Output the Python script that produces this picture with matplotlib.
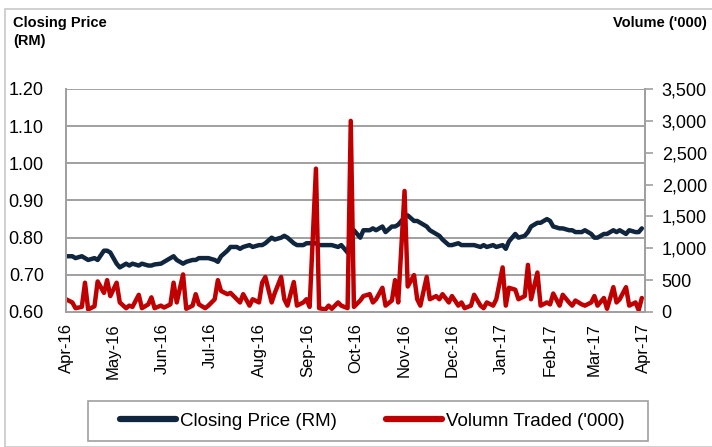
import matplotlib
matplotlib.use("Agg")
import matplotlib.pyplot as plt
import matplotlib.dates as mdates
from matplotlib.ticker import FuncFormatter, MultipleLocator
from matplotlib.patches import Rectangle
import pandas as pd

plt.rcParams["font.family"] = ["Liberation Sans", "DejaVu Sans"]

# every second trading day, Apr 2016 - Mar 2017
dates = pd.bdate_range("2016-04-01", "2017-03-31")[::2]

price = [
    0.75, 0.75, 0.745, 0.75, 0.745, 0.74, 0.745, 0.74, 0.765, 0.765,
    0.76, 0.73, 0.72, 0.73, 0.725, 0.73, 0.725, 0.73, 0.725, 0.725,
    0.728, 0.73, 0.735, 0.745, 0.75, 0.74, 0.73, 0.735, 0.74, 0.74,
    0.745, 0.745, 0.745, 0.74, 0.735, 0.75, 0.765, 0.775, 0.775, 0.77,
    0.775, 0.78, 0.775, 0.78, 0.78, 0.785, 0.80, 0.795, 0.80, 0.805,
    0.80, 0.785, 0.78, 0.78, 0.785, 0.785, 0.785, 0.78, 0.78, 0.78,
    0.78, 0.775, 0.78, 0.76, 0.80, 0.82, 0.80, 0.82, 0.82, 0.825,
    0.82, 0.83, 0.815, 0.83, 0.83, 0.835, 0.855, 0.86, 0.845, 0.845,
    0.84, 0.83, 0.82, 0.81, 0.805, 0.795, 0.78, 0.78, 0.785, 0.78,
    0.78, 0.78, 0.78, 0.775, 0.78, 0.775, 0.78, 0.775, 0.78, 0.77,
    0.79, 0.81, 0.80, 0.805, 0.815, 0.83, 0.84, 0.84, 0.85, 0.845,
    0.83, 0.825, 0.825, 0.82, 0.82, 0.815, 0.815, 0.82, 0.81, 0.80,
    0.80, 0.81, 0.81, 0.82, 0.815, 0.82, 0.81, 0.82, 0.815, 0.815, 0.825,
]

volume = [
    200, 150, 60, 80, 460, 40, 90, 480, 300, 500,
    250, 460, 150, 60, 100, 80, 270, 60, 120, 230,
    60, 100, 70, 120, 460, 150, 590, 50, 100, 280,
    120, 60, 100, 200, 500, 330, 280, 300, 200, 150,
    280, 100, 200, 150, 460, 550, 150, 300, 550, 200,
    100, 470, 100, 150, 200, 80, 2250, 60, 40, 100,
    50, 150, 100, 60, 3000, 80, 180, 250, 280, 150,
    200, 380, 100, 180, 500, 150, 1900, 400, 580, 200,
    100, 550, 200, 250, 200, 280, 150, 250, 100, 150,
    60, 100, 270, 100, 60, 150, 100, 200, 700, 100,
    380, 350, 200, 250, 740, 200, 620, 100, 150, 120,
    290, 100, 270, 150, 100, 180, 120, 100, 150, 250,
    100, 220, 50, 390, 150, 200, 390, 100, 150, 30, 220,
]

navy = "#10263f"
red = "#c00000"
grey = "#a0a0a0"

fig = plt.figure(figsize=(7.12, 4.47), dpi=100)
fig.patches.append(Rectangle((5 / 712, 0), 1, 1 - 9 / 447, transform=fig.transFigure,
                             fill=False, edgecolor="#c8c8c8", linewidth=1.2))

ax = fig.add_axes([66 / 712, 1 - 312 / 447, (645 - 66) / 712, (312 - 89) / 447])
ax2 = ax.twinx()

l1, = ax.plot(dates, price, color=navy, linewidth=3.2, solid_joinstyle="round",
              solid_capstyle="round", label="Closing Price (RM)")
l2, = ax2.plot(dates, volume, color=red, linewidth=3.2, solid_joinstyle="round",
               solid_capstyle="round", label="Volumn Traded ('000)")

ax.set_ylim(0.60, 1.20)
ax.yaxis.set_major_locator(MultipleLocator(0.10))
ax.yaxis.set_major_formatter(FuncFormatter(lambda v, p: f"{v:.2f}"))
ax2.set_ylim(0, 3500)
ax2.yaxis.set_major_locator(MultipleLocator(500))
ax2.yaxis.set_major_formatter(FuncFormatter(lambda v, p: f"{v:,.0f}"))

ax.set_xlim(pd.Timestamp("2016-04-01"), pd.Timestamp("2017-04-02"))
ax.xaxis.set_major_locator(mdates.MonthLocator())
ax.xaxis.set_major_formatter(mdates.DateFormatter("%b-%y"))
for lab in ax.get_xticklabels():
    lab.set_rotation(90)

ax.grid(axis="y", color=grey, linewidth=1.4)
ax.set_axisbelow(True)
for a in (ax, ax2):
    a.spines["top"].set_visible(False)
    for s in ("left", "right", "bottom"):
        a.spines[s].set_color(grey)
        a.spines[s].set_linewidth(1.4)
ax.tick_params(axis="y", length=0, labelsize=13, pad=16)
ax.tick_params(axis="x", length=0, labelsize=12, pad=8)
ax2.tick_params(axis="y", length=6, width=1.2, color=grey, labelsize=13, pad=6)

fig.text(13 / 712, 1 - 16 / 447, "Closing Price\n(RM)", fontsize=10.5, fontweight="bold",
         va="top", ha="left", linespacing=1.35)
fig.text(707 / 712, 1 - 16 / 447, "Volume ('000)", fontsize=10.5, fontweight="bold",
         va="top", ha="right")

# legend box drawn separately so it can be as wide as the original
fig.patches.append(Rectangle((88 / 712, 1 - 441 / 447), 560 / 712, 40 / 447,
                             transform=fig.transFigure, fill=False,
                             edgecolor=grey, linewidth=1.2))
leg = fig.legend(handles=[l1, l2], loc="center", bbox_to_anchor=(372 / 712, 1 - 421 / 447),
                 ncol=2, fontsize=13.5, frameon=False, handlelength=3.0,
                 handletextpad=0.2, columnspacing=2.6)
for h in leg.get_lines():
    h.set_linewidth(4.5)
    h.set_solid_capstyle("round")

fig.savefig("out.png", dpi=100)
